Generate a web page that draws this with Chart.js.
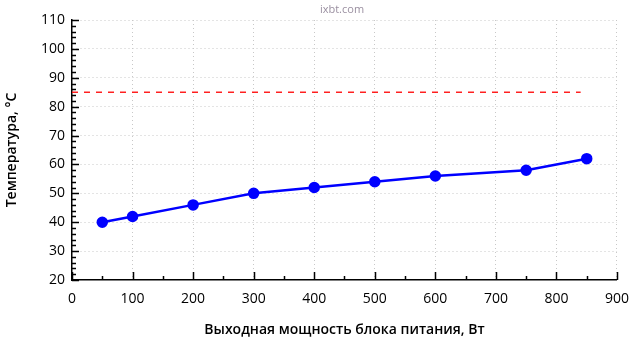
<!DOCTYPE html>
<html lang="ru">
<head>
  <meta charset="UTF-8">
  <title>Температура</title>
  <style>
    body { margin: 0; background: #fff; }
    .wrap { position: relative; width: 640px; height: 360px; }
    .mark { position: absolute; top: 1px; left: 0; width: 684px; text-align: center; font: 11px "Open Sans", sans-serif; color: #9a8fa0; }
  </style>
  <script src="https://cdn.jsdelivr.net/npm/chart.js"></script>
</head>
<body>
  <div class="wrap">
    <canvas id="c" width="640" height="360"></canvas>
    <div class="mark">ixbt.com</div>
  </div>
  <script>
    // data
    const powerW = [50, 100, 200, 300, 400, 500, 600, 750, 850];
    const tempC = [40, 42, 46, 50, 52, 54, 56, 58, 62];
    const limitX = [0, 840];
    const limitY = [85, 85];
    const xTicks = [0, 100, 200, 300, 400, 500, 600, 700, 800, 900];
    const yTicks = [20, 30, 40, 50, 60, 70, 80, 90, 100, 110];

    const font = "'Open Sans', sans-serif";

    // tick marks drawn inside the plot area (major + minor)
    const innerTicks = {
      id: 'innerTicks',
      afterDraw(chart) {
        const { ctx, scales: { x, y }, chartArea: a } = chart;
        ctx.save();
        ctx.strokeStyle = '#000';
        ctx.lineWidth = 1.5;
        ctx.beginPath();
        for (let v = 20; v <= 110; v += 2) {
          const py = Math.round(y.getPixelForValue(v)) + 0.5;
          const len = v % 10 === 0 ? 7 : 4;
          ctx.moveTo(a.left, py);
          ctx.lineTo(a.left + len, py);
        }
        for (let v = 0; v <= 900; v += 50) {
          const px = Math.round(x.getPixelForValue(v)) + 0.5;
          const len = v % 100 === 0 ? 8 : 4;
          ctx.moveTo(px, a.bottom);
          ctx.lineTo(px, a.bottom - len);
        }
        ctx.stroke();
        ctx.restore();
      }
    };

    new Chart(document.getElementById('c'), {
      type: 'scatter',
      data: {
        datasets: [
          {
            data: powerW.map((p, i) => ({ x: p, y: tempC[i] })),
            showLine: true,
            borderColor: '#0000ff',
            backgroundColor: '#0000ff',
            borderWidth: 2.5,
            pointRadius: 4.5,
            pointHoverRadius: 4.5
          },
          {
            data: limitX.map((p, i) => ({ x: p, y: limitY[i] })),
            showLine: true,
            borderColor: '#ff0000',
            borderWidth: 1.3,
            borderDash: [6, 6],
            pointRadius: 0
          }
        ]
      },
      options: {
        responsive: false,
        animation: false,
        layout: { padding: { top: 20, right: 21, left: 0, bottom: 22 } },
        plugins: { legend: { display: false }, tooltip: { enabled: false } },
        scales: {
          x: {
            type: 'linear',
            min: 0, max: 900,
            afterBuildTicks: s => { s.ticks = xTicks.map(v => ({ value: v })); },
            afterFit: s => { s.height = 58; },
            grid: {
              color: ctx => ctx.tick && ctx.tick.value === 0 ? 'rgba(0,0,0,0)' : '#c8c8c8',
              drawTicks: false,
              lineWidth: 1
            },
            border: { display: true, color: '#000', width: 1.5, dash: [1, 3] },
            ticks: { color: '#000', font: { family: font, size: 14 }, padding: 11, maxRotation: 0 },
            title: {
              display: true,
              text: 'Выходная мощность блока питания, Вт',
              color: '#000',
              font: { family: font, size: 14, weight: '600' },
              padding: { top: 4, bottom: 0 }
            }
          },
          y: {
            min: 20, max: 110,
            afterBuildTicks: s => { s.ticks = yTicks.map(v => ({ value: v })); },
            afterFit: s => { s.width = 72; },
            grid: {
              color: ctx => ctx.tick && ctx.tick.value === 20 ? 'rgba(0,0,0,0)' : '#c8c8c8',
              drawTicks: false,
              lineWidth: 1
            },
            border: { display: true, color: '#000', width: 1.5, dash: [1, 3] },
            ticks: { color: '#000', font: { family: font, size: 14 }, padding: 7 },
            title: {
              display: true,
              text: 'Температура, °C',
              color: '#000',
              font: { family: font, size: 14, weight: '600' },
              padding: { top: 4, bottom: 0 }
            }
          }
        }
      },
      plugins: [innerTicks]
    });
  </script>
</body>
</html>
